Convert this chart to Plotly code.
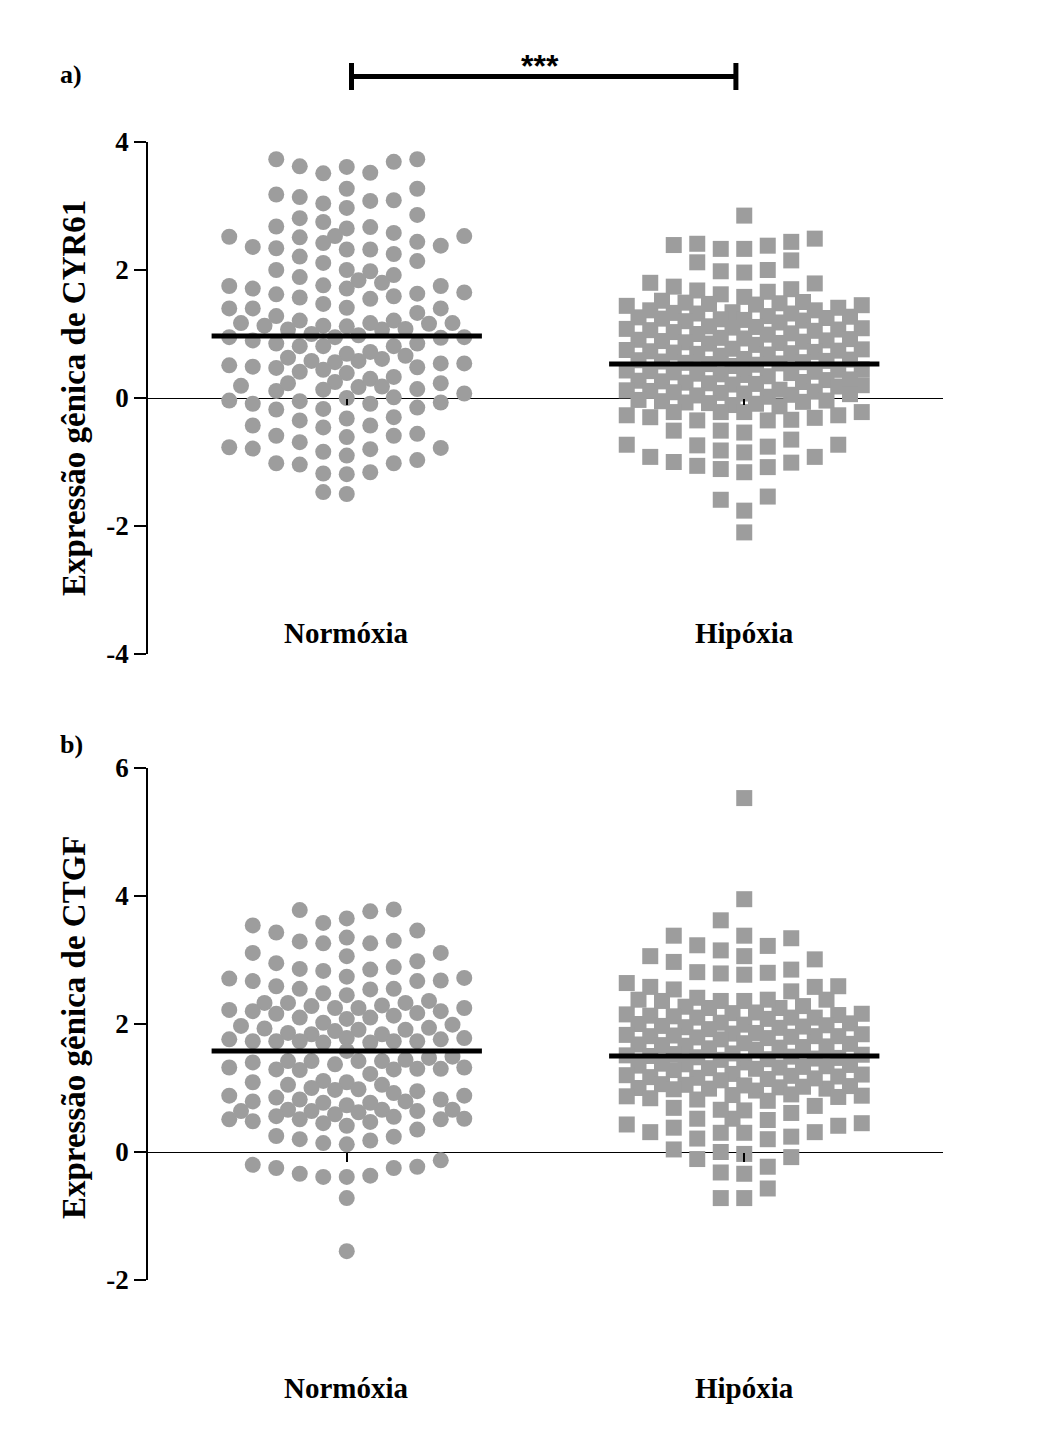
import numpy as np
import plotly.graph_objects as go

# ---------------- data ----------------
categories = ["Normóxia", "Hipóxia"]
panel_labels = ["a)", "b)"]
ytitle_a = "Expressão gênica de CYR61"
ytitle_b = "Expressão gênica de CTGF"
ytick_vals_a = [-4, -2, 0, 2, 4]
ytick_text_a = ["-4", "-2", "0", "2", "4"]
ytick_vals_b = [-2, 0, 2, 4, 6]
ytick_text_b = ["-2", "0", "2", "4", "6"]
signif_a = "***"

cyr61_normoxia = [
    3.73, 3.69, 3.61, 3.51, 3.52, 3.62, 3.73,
    3.27, 3.18, 3.09, 3.04, 2.97, 3.08, 3.14, 3.27,
    2.81, 2.68, 2.65, 2.53, 2.52, 2.53, 2.58, 2.67, 2.75, 2.86,
    2.44, 2.38, 2.34, 2.32, 2.21, 2.14, 2.25, 2.32, 2.36, 2.42, 2.51,
    2.11, 2.00, 1.92, 1.84, 1.76, 1.71, 1.75, 1.71, 1.75, 1.80, 1.89, 1.98, 2.00,
    1.63, 1.59, 1.55, 1.41, 1.40, 1.33, 1.40, 1.28, 1.40, 1.47, 1.57, 1.62, 1.65,
    1.17, 1.17, 1.13, 1.12, 1.07, 1.21, 1.21, 1.07, 1.08, 1.13, 1.16, 1.17,
    0.85, 0.81, 0.81, 0.98, 0.95, 0.94, 1.00, 0.95, 0.95, 0.81, 0.85, 0.90,
    0.58, 0.69, 0.56, 0.63, 0.54, 0.61, 0.51, 0.66, 0.54, 0.72, 0.58, 0.49, 0.47, 0.41, 0.39, 0.44, 0.48,
    0.19, 0.33, 0.14, 0.25, 0.11, 0.23, 0.13, 0.23, 0.17, 0.30, 0.18,
    0.01, -0.04, -0.07, -0.09, -0.17, -0.18, -0.15, -0.09, -0.05, 0.00, 0.07,
    -0.32, -0.43, -0.46, -0.59, -0.61, -0.59, -0.56, -0.43, -0.35, -0.30,
    -0.77, -0.79, -0.84, -0.97, -1.02, -1.04, -1.02, -0.90, -0.80, -0.78, -0.69,
    -1.16, -1.19, -1.18,
    -1.50, -1.47,
]

cyr61_hipoxia = [
    2.85,
    2.44, 2.39, 2.15, 2.33, 2.33, 2.38, 2.41, 2.49,
    2.00, 1.96, 1.98, 2.12,
    1.80, 1.74, 1.68, 1.62, 1.58, 1.66, 1.70, 1.79,
    1.37, 1.34, 1.32, 1.37, 1.33, 1.32, 0.99, 1.00,
    1.52, 1.48, 1.45, 1.50, 1.44, 1.47, 1.41, 1.46, 1.49,
    1.28, 1.25, 1.22, 1.27, 1.20, 1.24, 1.18, 1.26, 1.23, 1.21,
    1.12, 1.08, 1.05, 1.10, 1.03, 1.07, 1.01, 1.09, 1.06, 1.11,
    0.93, 0.90, 0.87, 0.92, 0.85, 0.89, 0.83, 0.91, 0.88, 0.86, 0.94,
    0.76, 0.73, 0.70, 0.75, 0.68, 0.72, 0.66, 0.74, 0.71, 0.69, 0.77,
    0.60, 0.57, 0.54, 0.59, 0.52, 0.56, 0.50, 0.58, 0.55, 0.53, 0.61,
    0.44, 0.41, 0.38, 0.43, 0.36, 0.40, 0.34, 0.42, 0.39, 0.37, 0.45,
    0.28, 0.25, 0.22, 0.27, 0.20, 0.24, 0.18, 0.26, 0.23, 0.21, 0.29,
    0.12, 0.09, 0.06, 0.11, 0.04, 0.08, 0.02, 0.10, 0.07, 0.05, 0.13,
    -0.03, -0.06, -0.09, -0.04, -0.11, -0.07, -0.13, -0.05, -0.08,
    -0.22, -0.22, -0.27, -0.30, -0.35, -0.35, -0.34, -0.31, -0.22, -0.51, -0.27, -0.22,
    -0.51, -0.54, -0.73, -0.74, -0.76, -0.73, -0.65,
    -0.85, -0.92, -1.01, -1.08, -1.16, -1.11, -1.06, -1.00, -0.92, -0.82,
    -1.54, -1.59, -1.76,
    -2.10,
]

ctgf_normoxia = [
    3.78, 3.65, 3.76, 3.79,
    3.54, 3.43, 3.46, 3.58,
    3.30, 3.26, 3.26, 3.29, 3.35,
    3.11, 3.06, 2.98, 3.11,
    2.95, 2.86, 2.74, 2.83, 2.85, 2.89,
    2.71, 2.67, 2.59, 2.55, 2.48, 2.45, 2.54, 2.55, 2.67, 2.68, 2.72,
    2.33, 2.33, 2.28, 2.25, 2.29, 2.33, 2.36,
    2.25, 2.22, 2.20, 2.16, 2.10, 2.08, 2.02, 2.10, 2.13, 2.17, 2.20, 2.25,
    1.97, 1.91, 1.89, 1.84, 1.93, 1.84, 1.86, 1.91, 1.94, 1.99,
    1.78, 1.76, 1.73, 1.73, 1.71, 1.71, 1.73, 1.73, 1.73, 1.76, 1.78,
    1.58,
    1.42, 1.40, 1.32, 1.30, 1.47, 1.29, 1.42, 1.28, 1.42, 1.29, 1.44, 1.30, 1.49, 1.32, 1.37, 1.42,
    1.22, 1.11,
    1.09, 1.05, 0.98, 0.95, 0.88, 0.88, 0.85, 0.92, 0.97, 1.00, 1.05, 1.09,
    0.82, 0.79, 0.77, 0.73, 0.66, 0.66, 0.66, 0.77, 0.79, 0.82,
    0.64, 0.64, 0.59, 0.55, 0.51, 0.51, 0.51, 0.52, 0.56, 0.62, 0.64,
    0.47, 0.41, 0.35, 0.45, 0.48,
    0.25, 0.20, 0.14, 0.12, 0.18, 0.24,
    -0.20, -0.37, -0.25, -0.39, -0.34, -0.25, -0.39, -0.23, -0.13,
    -0.72,
    -1.55,
]

ctgf_hipoxia = [
    5.53,
    3.95,
    3.62,
    3.38, 3.34, 3.22, 3.23, 3.38,
    3.15, 3.06, 2.97, 3.01, 3.06,
    2.81, 2.79, 2.77, 2.80, 2.85,
    2.64, 2.58, 2.54, 2.51, 2.58, 2.59,
    2.36, 2.25, 2.25, 2.41, 2.38, 2.36, 2.38, 2.38, 2.28, 2.27, 2.36,
    2.10, 1.81, 1.45, 0.99, 0.69, 2.10, 1.81, 1.40, 0.99, 0.72,
    2.18, 2.15, 2.12, 2.17, 2.10, 2.14, 2.08, 2.16, 2.13,
    2.02, 1.99, 1.96, 2.01, 1.94, 1.98, 1.92, 2.00, 1.97, 1.95,
    1.86, 1.83, 1.80, 1.85, 1.78, 1.82, 1.76, 1.84, 1.81, 1.79,
    1.70, 1.67, 1.64, 1.69, 1.62, 1.66, 1.60, 1.68, 1.65, 1.63,
    1.54, 1.51, 1.48, 1.53, 1.46, 1.50, 1.44, 1.52, 1.49, 1.47,
    1.38, 1.35, 1.32, 1.37, 1.30, 1.34, 1.28, 1.36, 1.33, 1.31,
    1.22, 1.19, 1.16, 1.21, 1.14, 1.18, 1.12, 1.20, 1.17, 1.15,
    1.06, 1.03, 1.00, 1.05, 0.98, 1.02, 0.96, 1.04, 1.01,
    0.90, 0.87, 0.84, 0.89, 0.82, 0.86, 0.80, 0.88,
    0.65, 0.38, 0.52, 0.31, 0.50, 0.24, 0.43, 0.21, 0.41, 0.45, 0.20, 0.52, 0.30, 0.61, 0.30, 0.66, 0.31,
    -0.03, -0.11, 0.04, -0.08, 0.00,
    -0.32, -0.57, -0.34, -0.23,
    -0.72, -0.72,
]

cyr61_means = [0.97, 0.53]
ctgf_means = [1.58, 1.50]

# ---------------- layout constants (reference page pixels) ----------------
PAGE_W, PAGE_H = 1043, 1440
OFF_X, OFF_Y = 8, 8           # default body margin of the page
W, H = PAGE_W - 2 * OFF_X, PAGE_H - 2 * OFF_Y
X_L, X_R = 148, 943
A_TOP, A_BOT = 142, 654
B_TOP, B_BOT = 768, 1280
XRANGE = [-0.5, 1.5]
YRANGE_A = [-4, 4]
YRANGE_B = [-2, 6]
GRAY = "#9d9d9d"
MSIZE = 16
COL_PX = 23.5
MEAN_HALF = 0.34
SERIF = "Liberation Serif"

px_per_x = (X_R - X_L) / (XRANGE[1] - XRANGE[0])


def fx(px):
    return (px - OFF_X) / W


def fy(py):
    return 1 - (py - OFF_Y) / H


def swarm(vals, px_per_y, col_px=COL_PX, same_thr=18.0, half_thr=7.0):
    vals = np.asarray(vals, float)
    order = np.argsort(vals, kind="stable")
    cands = [0.0]
    for k in range(1, 6):
        cands += [-k, k]
    for k in range(0, 5):
        cands += [-(k + 0.5), k + 0.5]
    px_, py_ = [], []
    offs = np.zeros(len(vals))
    for i in order:
        y = vals[i] * px_per_y
        best, best_score = cands[0], -1.0
        for c in cands:
            x = c * col_px
            score = 10.0
            for a, b in zip(px_, py_):
                dx = abs(a - x)
                dy = abs(b - y)
                if dx < 1:
                    score = min(score, dy / same_thr)
                elif abs(dx - col_px / 2) < 1:
                    score = min(score, dy / half_thr)
            if score >= 1.0:
                best = c
                break
            if score > best_score:
                best, best_score = c, score
        x = best * col_px
        offs[i] = x
        px_.append(x)
        py_.append(y)
    return offs / px_per_x


fig = go.Figure()

panels = [
    dict(vals=[cyr61_normoxia, cyr61_hipoxia], means=cyr61_means, top=A_TOP, bot=A_BOT,
         yr=YRANGE_A, xa="x", ya="y", title=ytitle_a,
         title_py=398, lab_py=633, panel_py=75),
    dict(vals=[ctgf_normoxia, ctgf_hipoxia], means=ctgf_means, top=B_TOP, bot=B_BOT,
         yr=YRANGE_B, xa="x2", ya="y2", title=ytitle_b,
         title_py=1028, lab_py=1388, panel_py=744),
]

annotations = []
for pi, p in enumerate(panels):
    px_per_y = (p["bot"] - p["top"]) / (p["yr"][1] - p["yr"][0])
    for ci, vals in enumerate(p["vals"]):
        offs = swarm(vals, px_per_y)
        fig.add_trace(go.Scatter(
            x=ci + offs, y=vals, mode="markers", xaxis=p["xa"], yaxis=p["ya"],
            marker=dict(symbol="circle" if ci == 0 else "square", size=MSIZE,
                        color=GRAY, line=dict(width=0)),
            hoverinfo="y", showlegend=False))
    for ci, m in enumerate(p["means"]):
        fig.add_trace(go.Scatter(
            x=[ci - MEAN_HALF, ci + MEAN_HALF], y=[m, m], mode="lines",
            xaxis=p["xa"], yaxis=p["ya"], line=dict(color="black", width=5),
            hoverinfo="skip", showlegend=False))
    for ci, c in enumerate(categories):
        annotations.append(dict(x=ci, y=fy(p["lab_py"]), xref=p["xa"], yref="paper",
                                text=c, showarrow=False, xanchor="center", yanchor="middle",
                                font=dict(family=SERIF, size=29, color="black", weight="bold")))
    annotations.append(dict(x=fx(74), y=fy(p["title_py"]), xref="paper", yref="paper",
                            text=p["title"], textangle=-90, showarrow=False,
                            xanchor="center", yanchor="middle",
                            font=dict(family=SERIF, size=33, color="black", weight="bold")))
    annotations.append(dict(x=fx(71), y=fy(p["panel_py"]), xref="paper", yref="paper",
                            text=panel_labels[pi], showarrow=False,
                            xanchor="center", yanchor="middle",
                            font=dict(family=SERIF, size=26, color="black", weight="bold")))

# significance bar (panel a)
bar_x0, bar_x1 = 0.012, 0.979
bar_py, cap_top, cap_bot = 76.5, 63, 90
shapes = [
    dict(type="line", xref="x", yref="paper", x0=bar_x0, x1=bar_x1, y0=fy(bar_py), y1=fy(bar_py),
         line=dict(color="black", width=5)),
    dict(type="line", xref="x", yref="paper", x0=bar_x0, x1=bar_x0, y0=fy(cap_top), y1=fy(cap_bot),
         line=dict(color="black", width=5)),
    dict(type="line", xref="x", yref="paper", x0=bar_x1, x1=bar_x1, y0=fy(cap_top), y1=fy(cap_bot),
         line=dict(color="black", width=5)),
]
annotations.append(dict(x=(bar_x0 + bar_x1) / 2 - 0.01, y=fy(66), xref="x", yref="paper",
                        text=signif_a, showarrow=False, xanchor="center", yanchor="middle",
                        font=dict(family="Liberation Sans", size=32, color="black", weight="bold")))

common_x = dict(domain=[fx(X_L), fx(X_R)], range=XRANGE, showgrid=False, zeroline=False,
                showline=False, ticks="outside", tickvals=[0, 1], tickcolor="black",
                tickwidth=1.5, showticklabels=False, anchor="free", fixedrange=True,
                automargin=False)
common_y = dict(showgrid=False, zeroline=True, zerolinecolor="black", zerolinewidth=1.3,
                showline=True, linecolor="black", linewidth=1.5, ticks="outside",
                ticklen=12, tickwidth=1.5, tickcolor="black", automargin=False,
                tickfont=dict(family=SERIF, size=27, color="black", weight="bold"))

ya_dom = [fy(A_BOT), fy(A_TOP)]
yb_dom = [fy(B_BOT), fy(B_TOP)]
zero_a = ya_dom[0] + (0 - YRANGE_A[0]) / (YRANGE_A[1] - YRANGE_A[0]) * (ya_dom[1] - ya_dom[0])
zero_b = yb_dom[0] + (0 - YRANGE_B[0]) / (YRANGE_B[1] - YRANGE_B[0]) * (yb_dom[1] - yb_dom[0])

fig.update_layout(
    width=W, height=H, margin=dict(l=0, r=0, t=0, b=0, pad=0, autoexpand=False),
    paper_bgcolor="white", plot_bgcolor="white", showlegend=False,
    xaxis=dict(**common_x, position=zero_a, ticklen=6),
    xaxis2=dict(**common_x, position=zero_b, ticklen=9),
    yaxis=dict(**common_y, domain=ya_dom, range=YRANGE_A, tickvals=ytick_vals_a,
               ticktext=ytick_text_a, anchor="x"),
    yaxis2=dict(**common_y, domain=yb_dom, range=YRANGE_B, tickvals=ytick_vals_b,
                ticktext=ytick_text_b, anchor="x2"),
    annotations=annotations, shapes=shapes,
)

fig.write_html("out.html")
